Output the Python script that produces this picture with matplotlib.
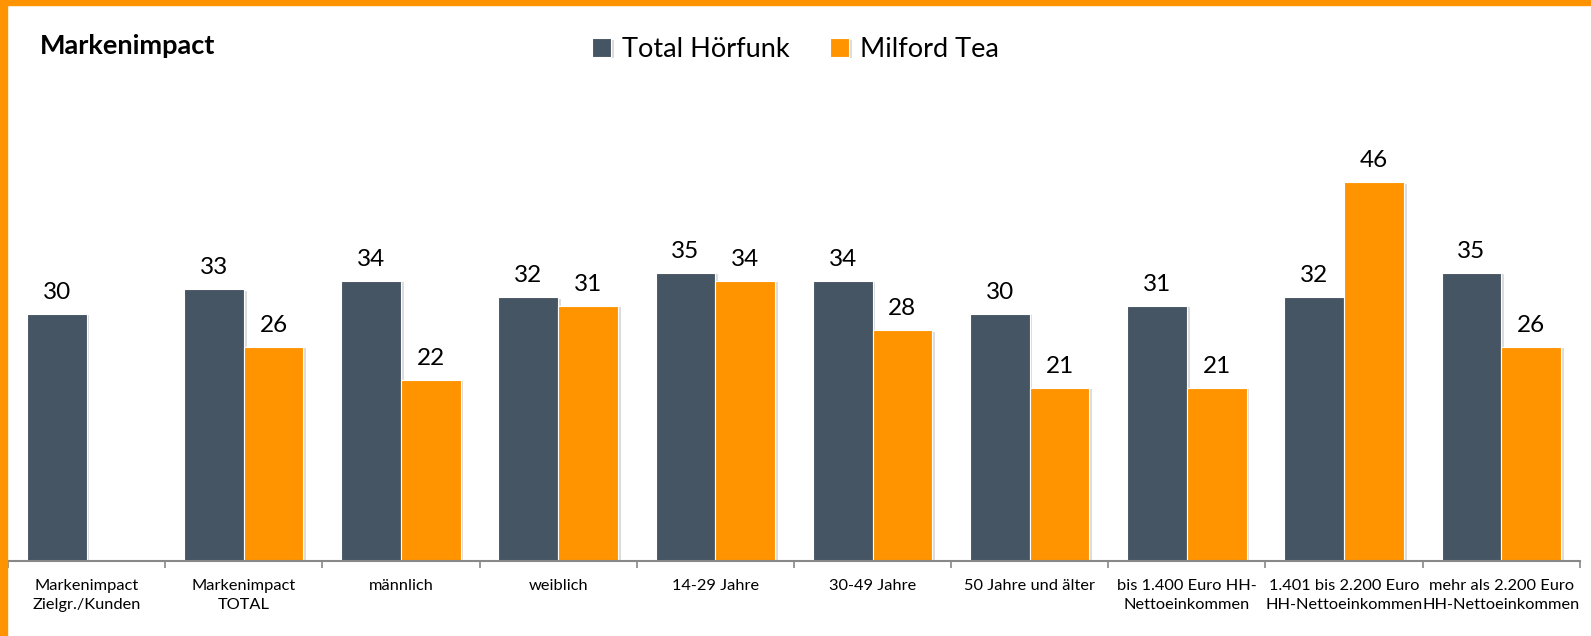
import matplotlib.pyplot as plt
import matplotlib.patheffects as pe
from matplotlib.patches import Rectangle
import numpy as np

plt.rcParams['font.family'] = ['Lato', 'DejaVu Sans']

# Daten
kategorien = [
    'Markenimpact\nZielgr./Kunden', 'Markenimpact\nTOTAL', 'männlich', 'weiblich',
    '14-29 Jahre', '30-49 Jahre', '50 Jahre und älter',
    'bis 1.400 Euro HH-\nNettoeinkommen', '1.401 bis 2.200 Euro\nHH-Nettoeinkommen',
    'mehr als 2.200 Euro\nHH-Nettoeinkommen',
]
total_hoerfunk = [30, 33, 34, 32, 35, 34, 30, 31, 32, 35]
milford_tea = [None, 26, 22, 31, 34, 28, 21, 21, 46, 26]

dunkel = '#465563'
orange = '#FF9400'

fig = plt.figure(figsize=(15.91, 6.36), dpi=100)
ax = fig.add_axes([0.005, 0.118, 0.988, 0.712])

x = np.arange(len(kategorien))
w = 0.38
schatten = [pe.SimplePatchShadow(offset=(2, -1), shadow_rgbFace='#bbbbbb', alpha=0.5), pe.Normal()]

b1 = ax.bar(x - w / 2, total_hoerfunk, w, color=dunkel, edgecolor='white', linewidth=0.8,
            label='Total Hörfunk')
m_x = [xi + w / 2 for xi, v in zip(x, milford_tea) if v is not None]
m_v = [v for v in milford_tea if v is not None]
b2 = ax.bar(m_x, m_v, w, color=orange, edgecolor='white', linewidth=0.8, label='Milford Tea')
for b in list(b1) + list(b2):
    b.set_path_effects(schatten)

ax.bar_label(b1, padding=8, fontsize=17.5)
ax.bar_label(b2, padding=8, fontsize=17.5)

ax.set_xlim(-0.5, len(kategorien) - 0.5)
ax.set_ylim(0, 55)
ax.set_xticks(x)
ax.set_xticklabels(kategorien, fontsize=11.8, linespacing=1.45)
ax.tick_params(axis='x', length=0, pad=13)
ax.set_xticks(np.arange(-0.5, len(kategorien)), minor=True)
ax.tick_params(axis='x', which='minor', length=5, color='#888888', width=1.2)
ax.set_yticks([])
for s in ['top', 'right', 'left']:
    ax.spines[s].set_visible(False)
ax.spines['bottom'].set_color('#888888')
ax.spines['bottom'].set_linewidth(1.5)

fig.text(0.025, 0.928, 'Markenimpact', fontsize=19.5, fontweight='bold', va='center')
fig.legend(loc='center', bbox_to_anchor=(0.5, 0.922), ncol=2, frameon=False,
           fontsize=19.5, handlelength=0.7, handleheight=0.7, columnspacing=1.5,
           handletextpad=0.4)

# orangener Rahmen oben und links
fig.patches.append(Rectangle((0, 1 - 5 / 636), 1, 5 / 636, transform=fig.transFigure,
                             color=orange, zorder=10))
fig.patches.append(Rectangle((0, 0), 7 / 1591, 1, transform=fig.transFigure,
                             color=orange, zorder=10))

fig.savefig('out.png', dpi=100)
